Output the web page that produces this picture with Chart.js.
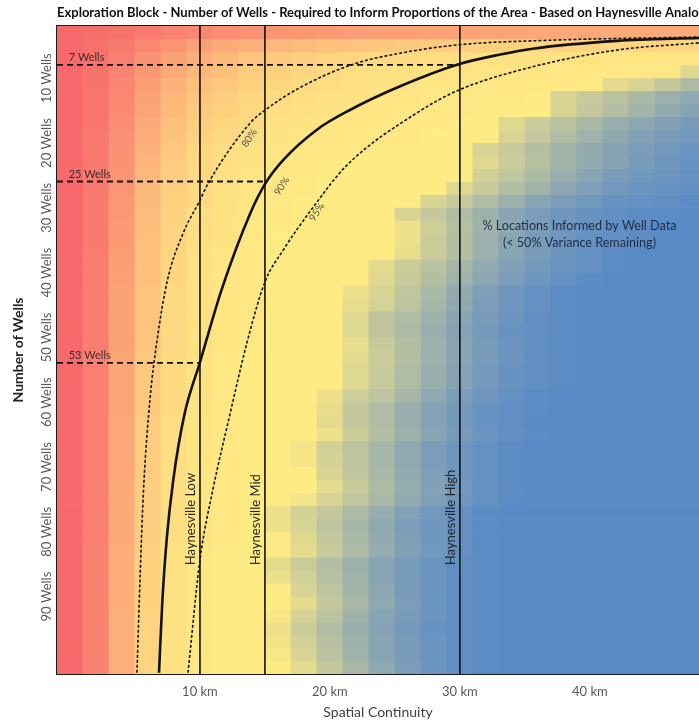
<!DOCTYPE html>
<html>
<head>
<meta charset="utf-8">
<script src="https://cdn.jsdelivr.net/npm/chart.js@4.4.0/dist/chart.umd.min.js"></script>
<style>
  html, body { margin: 0; padding: 0; background: #fff; overflow: hidden; }
  canvas { display: block; }
</style>
</head>
<body>
<canvas id="wellsChart" width="699" height="725"></canvas>
<script>
// spatial continuity (km) at the centre of each cell column
const kmCols = [0, 2, 4, 6, 8, 10, 12, 14, 16, 18, 20, 22, 24, 26, 28, 30, 32, 34, 36, 38, 40, 42, 44, 46, 48];
// number of wells at the centre of each cell row
const wellRows = [2, 4, 6, 8, 10, 12, 14, 16, 18, 20, 22, 24, 26, 28, 30, 32, 34, 36, 38, 40, 42, 44, 46, 48, 50,
  52, 54, 56, 58, 60, 62, 64, 66, 68, 70, 72, 74, 76, 78, 80, 82, 84, 86, 88, 90, 92, 94, 96, 98, 100];
// colour scale position of each cell (0 = red, 50 = yellow, 100 = blue), one row per wellRows entry
const shade = [
  [0, 2, 4, 7, 10, 12, 14, 16, 17, 18, 19, 20, 21, 21, 22, 22, 23, 23, 24, 24, 24, 25, 25, 25, 25],
  [0, 3, 7, 12, 17, 21, 25, 28, 30, 32, 34, 35, 36, 37, 38, 39, 40, 40, 41, 41, 41, 42, 42, 42, 42],
  [0, 3, 9, 16, 22, 27, 31, 35, 37, 39, 41, 42, 43, 44, 45, 45, 46, 46, 47, 47, 47, 48, 48, 48, 48],
  [0, 4, 10, 18, 25, 30, 34, 38, 40, 42, 43, 45, 46, 46, 47, 47, 48, 48, 48, 49, 49, 49, 49, 49, 60],
  [0, 4, 11, 20, 28, 33, 37, 40, 42, 44, 45, 46, 47, 47, 48, 48, 49, 49, 49, 49, 50, 58, 62, 68, 75],
  [0, 5, 12, 22, 30, 35, 39, 42, 44, 45, 46, 47, 48, 48, 49, 49, 49, 49, 50, 62, 67, 71, 76, 80, 84],
  [0, 5, 13, 23, 31, 37, 40, 43, 45, 46, 47, 48, 48, 49, 49, 49, 50, 50, 50, 62, 68, 73, 78, 83, 87],
  [0, 5, 14, 25, 33, 38, 42, 44, 46, 47, 48, 48, 49, 49, 49, 50, 50, 60, 66, 71, 76, 81, 85, 88, 91],
  [0, 6, 15, 26, 35, 40, 43, 45, 47, 48, 48, 49, 49, 49, 50, 50, 50, 62, 68, 74, 79, 84, 88, 91, 93],
  [0, 6, 16, 28, 37, 42, 45, 47, 48, 49, 49, 49, 50, 50, 50, 50, 62, 67, 73, 78, 83, 87, 90, 93, 95],
  [0, 6, 16, 29, 38, 43, 45, 47, 48, 49, 49, 50, 50, 50, 50, 50, 60, 66, 72, 78, 83, 87, 91, 94, 96],
  [0, 6, 17, 30, 39, 43, 46, 48, 49, 49, 50, 50, 50, 50, 50, 50, 64, 69, 75, 81, 86, 90, 93, 95, 97],
  [0, 7, 17, 31, 39, 44, 46, 48, 49, 49, 50, 50, 50, 50, 50, 60, 67, 73, 79, 85, 89, 93, 95, 97, 98],
  [0, 7, 18, 31, 40, 44, 47, 48, 49, 50, 50, 50, 50, 50, 62, 67, 74, 80, 86, 90, 93, 96, 97, 98, 99],
  [0, 7, 18, 32, 40, 45, 47, 48, 49, 50, 50, 50, 50, 62, 68, 74, 80, 86, 90, 94, 96, 98, 99, 99, 100],
  [0, 7, 19, 32, 41, 45, 47, 49, 49, 50, 50, 50, 50, 55, 65, 72, 79, 85, 90, 94, 96, 98, 99, 100, 100],
  [0, 7, 19, 33, 41, 45, 47, 49, 50, 50, 50, 50, 50, 55, 66, 73, 80, 86, 91, 94, 97, 98, 99, 100, 100],
  [0, 8, 20, 33, 42, 46, 48, 49, 50, 50, 50, 50, 50, 57, 66, 73, 80, 86, 91, 95, 97, 99, 100, 100, 100],
  [0, 8, 20, 34, 42, 46, 48, 49, 50, 50, 50, 50, 58, 66, 71, 77, 83, 88, 92, 95, 97, 99, 100, 100, 100],
  [0, 8, 21, 34, 42, 46, 48, 49, 50, 50, 50, 50, 60, 67, 73, 79, 85, 90, 94, 97, 99, 100, 100, 100, 100],
  [0, 8, 22, 35, 43, 46, 48, 49, 50, 50, 50, 55, 62, 69, 76, 83, 89, 94, 97, 99, 100, 100, 100, 100, 100],
  [0, 8, 22, 35, 43, 46, 48, 49, 50, 50, 50, 57, 63, 70, 77, 84, 90, 94, 97, 99, 100, 100, 100, 100, 100],
  [0, 8, 22, 35, 43, 46, 48, 49, 50, 50, 50, 60, 70, 74, 80, 86, 91, 95, 98, 99, 100, 100, 100, 100, 100],
  [0, 8, 22, 35, 43, 46, 48, 49, 50, 50, 50, 60, 70, 75, 81, 87, 92, 96, 98, 99, 100, 100, 100, 100, 100],
  [0, 8, 22, 35, 43, 46, 48, 49, 50, 50, 50, 57, 67, 73, 80, 86, 91, 95, 98, 99, 100, 100, 100, 100, 100],
  [0, 9, 23, 37, 44, 47, 49, 50, 50, 50, 50, 58, 66, 73, 80, 86, 91, 95, 98, 99, 100, 100, 100, 100, 100],
  [0, 9, 23, 37, 44, 47, 49, 50, 50, 50, 50, 60, 67, 74, 81, 87, 92, 96, 98, 99, 100, 100, 100, 100, 100],
  [0, 9, 23, 37, 44, 47, 49, 50, 50, 50, 50, 60, 67, 74, 81, 87, 92, 96, 98, 99, 100, 100, 100, 100, 100],
  [0, 9, 23, 37, 44, 47, 49, 50, 50, 50, 55, 65, 70, 77, 84, 90, 94, 97, 99, 100, 100, 100, 100, 100, 100],
  [0, 9, 23, 37, 44, 47, 49, 50, 50, 50, 57, 68, 74, 81, 87, 92, 96, 98, 99, 100, 100, 100, 100, 100, 100],
  [0, 9, 24, 38, 45, 48, 49, 50, 50, 50, 58, 68, 74, 81, 87, 92, 96, 98, 100, 100, 100, 100, 100, 100, 100],
  [0, 9, 24, 38, 45, 48, 49, 50, 50, 50, 55, 66, 73, 80, 86, 91, 95, 98, 99, 100, 100, 100, 100, 100, 100],
  [0, 9, 24, 38, 45, 48, 49, 50, 50, 53, 64, 70, 77, 84, 90, 94, 97, 99, 100, 100, 100, 100, 100, 100, 100],
  [0, 9, 24, 38, 45, 48, 49, 50, 50, 53, 63, 70, 77, 84, 90, 94, 97, 99, 100, 100, 100, 100, 100, 100, 100],
  [0, 9, 24, 38, 45, 48, 49, 50, 50, 50, 62, 69, 76, 83, 89, 94, 97, 99, 100, 100, 100, 100, 100, 100, 100],
  [0, 9, 25, 39, 45, 48, 49, 50, 50, 50, 58, 67, 75, 82, 88, 93, 97, 99, 100, 100, 100, 100, 100, 100, 100],
  [0, 9, 25, 39, 45, 48, 49, 50, 50, 53, 62, 69, 76, 83, 89, 94, 97, 99, 100, 100, 100, 100, 100, 100, 100],
  [0, 9, 25, 39, 45, 48, 49, 50, 55, 63, 68, 75, 82, 88, 93, 97, 99, 100, 100, 100, 100, 100, 100, 100, 100],
  [0, 9, 25, 39, 45, 48, 49, 50, 55, 62, 70, 77, 84, 90, 94, 97, 99, 100, 100, 100, 100, 100, 100, 100, 100],
  [0, 9, 25, 39, 45, 48, 49, 50, 51, 60, 68, 76, 83, 89, 94, 97, 99, 100, 100, 100, 100, 100, 100, 100, 100],
  [0, 10, 26, 40, 46, 48, 50, 50, 51, 58, 67, 75, 82, 88, 93, 97, 99, 100, 100, 100, 100, 100, 100, 100, 100],
  [0, 10, 26, 40, 46, 48, 50, 50, 58, 66, 73, 80, 86, 91, 95, 98, 99, 100, 100, 100, 100, 100, 100, 100, 100],
  [0, 10, 26, 40, 46, 48, 50, 50, 56, 64, 72, 79, 86, 91, 95, 98, 99, 100, 100, 100, 100, 100, 100, 100, 100],
  [0, 10, 26, 40, 46, 48, 50, 50, 50, 62, 70, 78, 85, 91, 95, 98, 99, 100, 100, 100, 100, 100, 100, 100, 100],
  [0, 10, 26, 40, 46, 48, 50, 50, 50, 58, 68, 76, 84, 90, 95, 98, 99, 100, 100, 100, 100, 100, 100, 100, 100],
  [0, 10, 27, 41, 46, 49, 50, 50, 52, 63, 71, 79, 86, 91, 95, 98, 99, 100, 100, 100, 100, 100, 100, 100, 100],
  [0, 10, 27, 41, 46, 49, 50, 50, 55, 66, 74, 81, 87, 92, 96, 98, 99, 100, 100, 100, 100, 100, 100, 100, 100],
  [0, 10, 27, 41, 46, 49, 50, 50, 54, 64, 72, 80, 86, 91, 95, 98, 99, 100, 100, 100, 100, 100, 100, 100, 100],
  [0, 10, 27, 41, 46, 49, 50, 50, 52, 62, 71, 79, 86, 91, 95, 98, 99, 100, 100, 100, 100, 100, 100, 100, 100],
  [0, 10, 27, 41, 46, 49, 50, 50, 50, 58, 68, 76, 84, 90, 95, 98, 99, 100, 100, 100, 100, 100, 100, 100, 100]
];

const xTicks = [10, 20, 30, 40];
const yTicks = [10, 20, 30, 40, 50, 60, 70, 80, 90];

// contour curves (km, wells)
const c80Km = [5.15, 5.5, 5.7, 6.15, 6.7, 7.5, 8.7, 10, 10.6, 13.85, 15, 17.7, 21.8, 25.4, 29.9, 36.9, 48.4];
const c80Wells = [100.8, 80, 71, 58.7, 49.5, 40.2, 33, 27.9, 25.4, 16, 14, 10.5, 6.9, 5.2, 3.9, 3.2, 2.7];
const c90Km = [6.85, 7.1, 7.45, 7.95, 8.8, 10, 11.7, 13.85, 15, 16.4, 19, 21.5, 25.4, 29.9, 33.1, 35.6, 42.1, 48.4];
const c90Wells = [100.8, 90, 80, 71, 61, 52.9, 41.5, 30, 25.4, 21.7, 17, 14, 10.3, 6.9, 5.4, 4.5, 3.3, 2.85];
const c95Km = [9.08, 10, 11, 12.3, 13.6, 15, 16.4, 18.7, 21.3, 26.7, 29.9, 35.6, 42.1, 48.4];
const c95Wells = [100.8, 83.4, 72.5, 61, 50, 40.5, 35.6, 29, 22.5, 14.4, 10.9, 7.3, 4.7, 3.6];
const contourNames = ["80%", "90%", "95%"];
const contourLabelKm = [13.8, 16.3, 19];
const contourLabelWells = [18.3, 25.7, 29.7];

// wells needed for each Haynesville analog
const analogNames = ["Haynesville Low", "Haynesville Mid", "Haynesville High"];
const analogKm = [10, 15, 30];
const analogWells = [53, 25, 7];

const red = [248, 105, 107];
const yellow = [255, 235, 132];
const blue = [90, 138, 198];

function shadeColor(p) {
  const [a, b, t] = p <= 50 ? [red, yellow, p / 50] : [yellow, blue, (p - 50) / 50];
  return "rgb(" + a.map((v, i) => Math.round(v + (b[i] - v) * t)).join(",") + ")";
}

const pts = (xs, ys) => xs.map((x, i) => ({x: x, y: ys[i]}));

const cellSets = wellRows.map((w, r) => ({
  type: "bar",
  data: kmCols.map((k) => ({x: k, y: [w - 1, w + 1]})),
  backgroundColor: shade[r].map(shadeColor),
  borderWidth: 0,
  barPercentage: 1,
  categoryPercentage: 1,
  grouped: false,
  order: 5
}));

const curveSets = [
  {data: pts(c80Km, c80Wells), borderDash: [3, 2], borderWidth: 1.6},
  {data: pts(c90Km, c90Wells), borderDash: [], borderWidth: 2.6},
  {data: pts(c95Km, c95Wells), borderDash: [3, 2], borderWidth: 1.6}
].map((d) => Object.assign({
  type: "line", borderColor: "#111", pointRadius: 0, cubicInterpolationMode: "monotone", order: 1
}, d));

const refSets = analogKm.map((k, i) => ({
  type: "line",
  data: [{x: -1, y: analogWells[i]}, {x: k, y: analogWells[i]}],
  borderColor: "#111", borderWidth: 1.8, borderDash: [6, 4], pointRadius: 0, order: 0
}));

const analogSets = analogKm.map((k) => ({
  type: "line",
  data: [{x: k, y: 1}, {x: k, y: 101}],
  borderColor: "#111", borderWidth: 1.6, pointRadius: 0, order: 0
}));

const notes = {
  id: "notes",
  afterDatasetsDraw(chart) {
    const {ctx} = chart;
    const x = chart.scales.x, y = chart.scales.y;
    ctx.save();
    ctx.fillStyle = "#3a2e2e";
    ctx.font = "11px Lato";
    ctx.textAlign = "left";
    ctx.textBaseline = "alphabetic";
    analogWells.forEach((w) => ctx.fillText(w + " Wells", x.getPixelForValue(-0.1), y.getPixelForValue(w) - 4));

    ctx.fillStyle = "#262626";
    ctx.font = "13px Lato";
    ctx.textBaseline = "middle";
    analogKm.forEach((k, i) => {
      ctx.save();
      ctx.translate(x.getPixelForValue(k) - 9, y.getPixelForValue(84.2));
      ctx.rotate(-Math.PI / 2);
      ctx.fillText(analogNames[i], 0, 0);
      ctx.restore();
    });

    ctx.fillStyle = "#555";
    ctx.font = "10px Lato";
    ctx.textAlign = "center";
    contourNames.forEach((t, i) => {
      ctx.save();
      ctx.translate(x.getPixelForValue(contourLabelKm[i]), y.getPixelForValue(contourLabelWells[i]));
      ctx.rotate(-57 * Math.PI / 180);
      ctx.fillText(t, 0, 0);
      ctx.restore();
    });

    ctx.fillStyle = "#1f2d45";
    ctx.font = "12.6px Lato";
    ctx.fillText("% Locations Informed by Well Data", x.getPixelForValue(39.2), y.getPixelForValue(31.9));
    ctx.fillText("(< 50% Variance Remaining)", x.getPixelForValue(39.2), y.getPixelForValue(34.5));
    ctx.restore();
  },
  afterDraw(chart) {
    const {ctx} = chart;
    ctx.save();
    ctx.fillStyle = "#111";
    ctx.font = "bold 13px Lato";
    ctx.textBaseline = "middle";
    ctx.fillText("Exploration Block - Number of Wells - Required to Inform Proportions of the Area - Based on Haynesville Analog", 57, 13);
    ctx.restore();
  }
};

new Chart(document.getElementById("wellsChart"), {
  type: "bar",
  data: {
    datasets: [...refSets, ...analogSets, ...curveSets, ...cellSets]
  },
  options: {
    responsive: false,
    animation: false,
    devicePixelRatio: 1,
    events: [],
    layout: {padding: {top: 26, left: 0, right: 0, bottom: 0}},
    plugins: {legend: {display: false}, tooltip: {enabled: false}, title: {display: false}},
    scales: {
      x: {
        type: "linear", min: -1, max: 48.4, offset: false,
        afterBuildTicks: (s) => { s.ticks = xTicks.map((v) => ({value: v})); },
        afterFit: (s) => { s.height = 51; },
        grid: {display: false, drawTicks: false},
        border: {display: true, color: "#1a1a1a", width: 2},
        ticks: {callback: (v) => v + " km", color: "#595959", font: {family: "Lato", size: 13}, padding: 10, maxRotation: 0, autoSkip: false},
        title: {display: true, text: "Spatial Continuity", color: "#404040", font: {family: "Lato", size: 14}, padding: {top: 0, bottom: 4}}
      },
      xTop: {
        type: "linear", position: "top", min: -1, max: 48.4,
        afterFit: (s) => { s.height = 0; },
        ticks: {display: false},
        grid: {display: false, drawTicks: false},
        border: {display: true, color: "#1a1a1a", width: 1.5}
      },
      y: {
        type: "linear", reverse: true, min: 1, max: 101,
        afterBuildTicks: (s) => { s.ticks = yTicks.map((v) => ({value: v})); },
        afterFit: (s) => { s.width = 57; },
        grid: {display: false, drawTicks: false},
        border: {display: true, color: "#1a1a1a", width: 2},
        ticks: {callback: (v) => v + " Wells", color: "#595959", font: {family: "Lato", size: 13}, minRotation: 90, maxRotation: 90, padding: 10, labelOffset: -31, autoSkip: false},
        title: {display: true, text: "Number of Wells", color: "#262626", font: {family: "Lato", size: 14, weight: "bold"}, padding: {top: 10, bottom: 0}}
      }
    }
  },
  plugins: [notes]
});
</script>
</body>
</html>
